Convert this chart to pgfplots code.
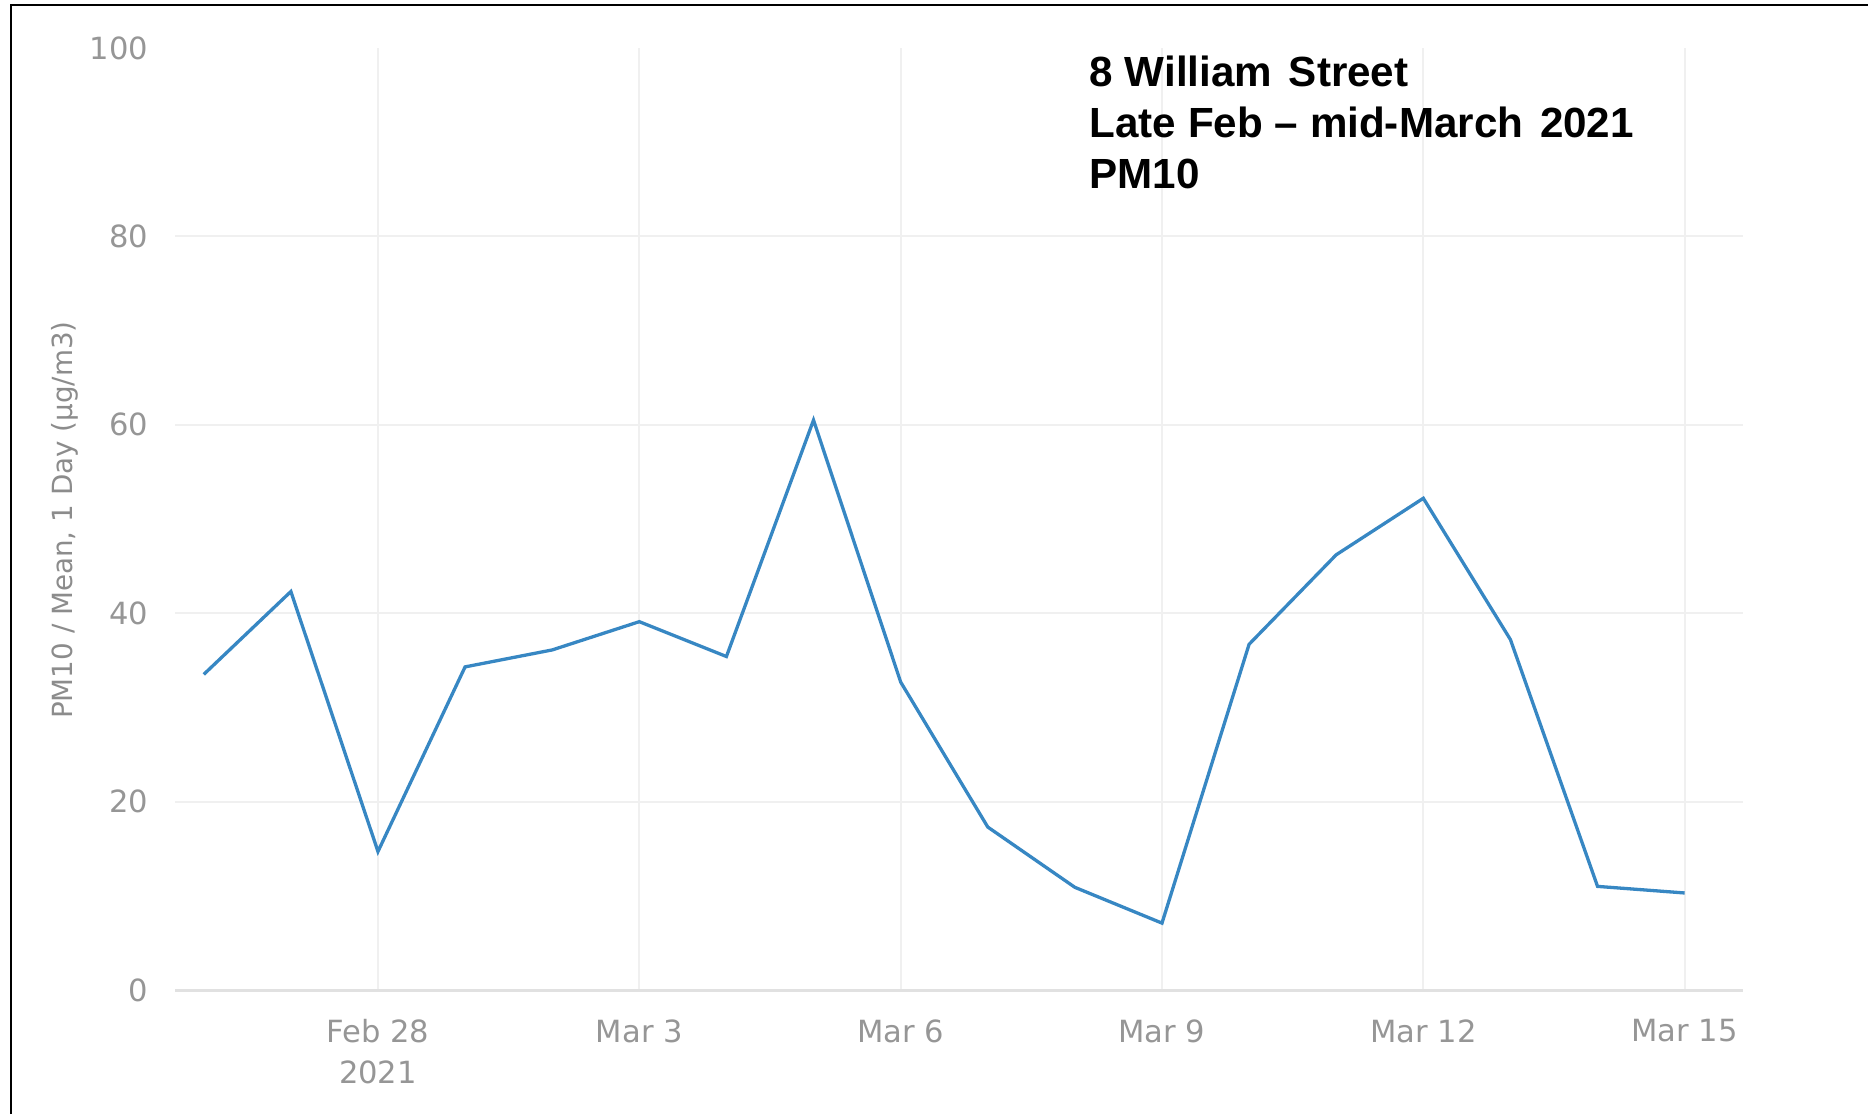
\documentclass[border=0pt]{standalone}
\usepackage{fontspec}
\usepackage{pgfplots}
\pgfplotsset{compat=1.18}
\setmainfont{DejaVu Sans}
\newfontfamily\titlefont[Ligatures=TeX]{Liberation Sans}
\definecolor{tickgray}{RGB}{150,150,150}
\definecolor{labgray}{RGB}{140,140,140}
\definecolor{gridgray}{RGB}{240,240,240}
\definecolor{zerogray}{RGB}{225,225,225}
\definecolor{linecol}{RGB}{55,135,195}
\begin{document}
\begin{tikzpicture}
\useasboundingbox (0,0) rectangle (186.8mm,111.4mm);
\begin{axis}[
  at={(17.5mm,12.4mm)}, anchor=south west,
  scale only axis, width=156.8mm, height=94.2mm,
  xmin=-2.33, xmax=15.67, ymin=0, ymax=100,
  axis line style={draw=none},
  tick style={draw=none}, major tick length=0pt,
  xtick={0,3,6,9,12,15},
  xticklabels={{Feb 28\\2021},{Mar 3},{Mar 6},{Mar 9},{Mar 12},{Mar 15}},
  ytick={20,40,60,80},
  extra y ticks={0,100},
  extra y tick style={grid=none},
  grid=major,
  major grid style={draw=gridgray, line width=0.2mm},
  /pgf/number format/assume math mode=true,
  ticklabel style={font=\fontsize{8.7}{11.4}\selectfont, text=tickgray, inner sep=0pt},
  xticklabel style={align=center, anchor=north, yshift=-2.9mm},
  yticklabel style={anchor=east, xshift=-2.6mm},
  clip=false,
]
\draw[zerogray, line width=0.3mm] (rel axis cs:0,0) -- (rel axis cs:1,0);
\addplot[linecol, line width=0.33mm, mark=none] coordinates {
(-2,33.5) (-1,42.3) (0,14.7) (1,34.3) (2,36.1) (3,39.1) (4,35.4) (5,60.5)
(6,32.7) (7,17.3) (8,10.9) (9,7.1) (10,36.7) (11,46.2) (12,52.2) (13,37.2)
(14,11.0) (15,10.3)
};
\end{axis}
\node[rotate=90, text=labgray, font=\fontsize{7.9}{9}\selectfont, inner sep=0pt] at (6.5mm,59.4mm) {PM10 / Mean, 1 Day (µg/m3)};
\node[anchor=north west, align=left, inner sep=0pt, font=\titlefont\bfseries\fontsize{12}{14.5}\selectfont] at (108.9mm,105.9mm)
  {8 William\hspace{0.12em} Street\\Late Feb – mid-March\hspace{0.12em} 2021\\PM10};
\draw[black, line width=0.25mm] (1.1mm,0) -- (1.1mm,110.9mm) -- (186.8mm,110.9mm);
\end{tikzpicture}
\end{document}
